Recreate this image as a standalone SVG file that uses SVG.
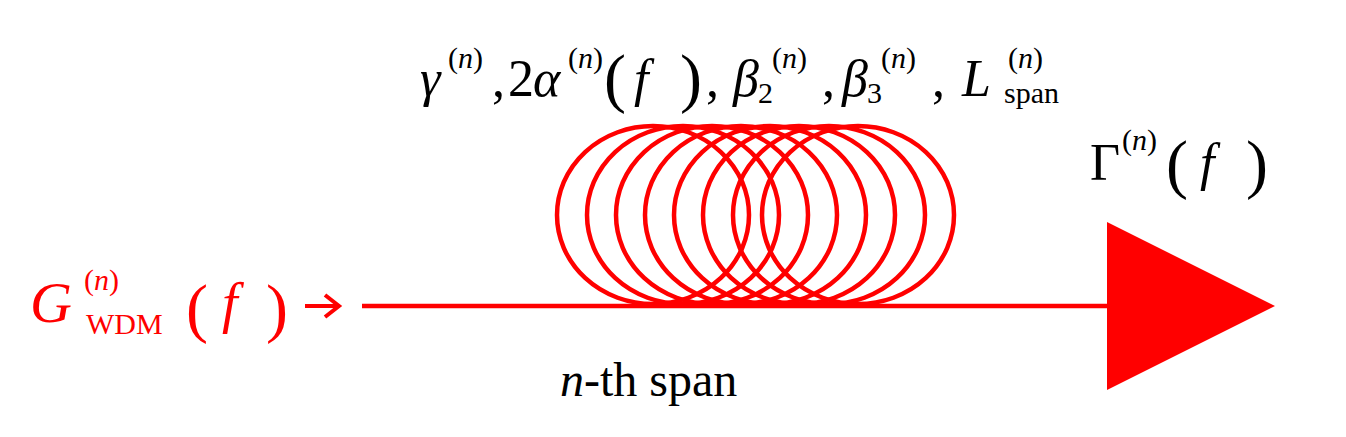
<svg xmlns="http://www.w3.org/2000/svg" width="1346" height="437" viewBox="0 0 1346 437">
<style>
text{font-family:"Liberation Serif",serif}
.t{fill:#000;font-size:52px}
.r{fill:#ff0000}
.i{font-style:italic}
.s{font-size:30px}
.p{font-size:66px}
.coil ellipse{fill:none;stroke:#ff0000;stroke-width:4.5}
</style>
<rect width="1346" height="437" fill="#fff"/>
<g id="params" class="t">
<text x="420" y="96" class="i">γ</text>
<text x="448" y="68" class="s">(<tspan class="i">n</tspan>)</text>
<text x="492" y="96">,</text>
<text x="508" y="96">2</text>
<text x="533" y="96" class="i">α</text>
<text x="568" y="68" class="s">(<tspan class="i">n</tspan>)</text>
<text x="604" y="100" class="p">(</text>
<text x="634" y="96" class="i">f</text>
<text x="680" y="100" class="p">)</text>
<text x="706" y="96">,</text>
<text x="733" y="96" class="i">β</text>
<text x="772" y="68" class="s">(<tspan class="i">n</tspan>)</text>
<text x="758" y="103" class="s">2</text>
<text x="822" y="96">,</text>
<text x="842" y="96" class="i">β</text>
<text x="881" y="68" class="s">(<tspan class="i">n</tspan>)</text>
<text x="867" y="103" class="s">3</text>
<text x="932" y="96">,</text>
<text x="962" y="96" class="i">L</text>
<text x="1008" y="68" class="s">(<tspan class="i">n</tspan>)</text>
<text x="1004" y="103" class="s">span</text>
</g>
<g id="input" class="r">
<text x="30" y="322" font-size="58" class="i">G</text>
<text x="84" y="290" class="s">(<tspan class="i">n</tspan>)</text>
<text x="86" y="334" class="s">WDM</text>
<text x="186" y="330" class="p">(</text>
<text x="222" y="322" font-size="56" class="i">f</text>
<text x="266" y="330" class="p">)</text>
</g>
<g id="coil" class="coil">
<ellipse cx="653" cy="215" rx="96" ry="89"/><ellipse cx="683" cy="215" rx="96" ry="89"/><ellipse cx="712" cy="215" rx="96" ry="89"/><ellipse cx="741" cy="215" rx="96" ry="89"/><ellipse cx="770" cy="215" rx="96" ry="89"/><ellipse cx="799" cy="215" rx="96" ry="89"/><ellipse cx="829" cy="215" rx="96" ry="89"/><ellipse cx="858" cy="215" rx="96" ry="89"/>
</g>
<g id="connectors">
<path d="M305 306 H338 M325 295 L339 306 L325 317" fill="none" stroke="#ff0000" stroke-width="4"/>
<line x1="362" y1="306" x2="1110" y2="306" stroke="#ff0000" stroke-width="4.5"/>
</g>
<g id="amp"><polygon points="1107,222 1107,390 1275,306" fill="#ff0000"/></g>
<g id="gamma" class="t">
<text x="1090" y="180">Γ</text>
<text x="1122" y="150" class="s">(<tspan class="i">n</tspan>)</text>
<text x="1166" y="186" class="p">(</text>
<text x="1200" y="180" class="i">f</text>
<text x="1246" y="186" class="p">)</text>
</g>
<g id="label"><text x="560" y="396" font-size="48" fill="#000"><tspan class="i">n</tspan>-th span</text></g>
</svg>
